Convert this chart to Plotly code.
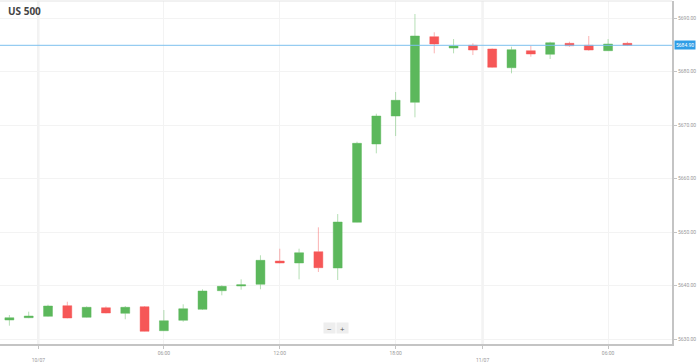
import plotly.graph_objects as go

# ---- data (hourly candles, 09/07 21:00 -> 11/07 07:00, 23:00 session break) ----
times = ["09/07 21:00", "09/07 22:00",
         "10/07 00:00", "10/07 01:00", "10/07 02:00", "10/07 03:00", "10/07 04:00", "10/07 05:00",
         "10/07 06:00", "10/07 07:00", "10/07 08:00", "10/07 09:00", "10/07 10:00", "10/07 11:00",
         "10/07 12:00", "10/07 13:00", "10/07 14:00", "10/07 15:00", "10/07 16:00", "10/07 17:00",
         "10/07 18:00", "10/07 19:00", "10/07 20:00", "10/07 21:00", "10/07 22:00",
         "11/07 00:00", "11/07 01:00", "11/07 02:00", "11/07 03:00", "11/07 04:00", "11/07 05:00",
         "11/07 06:00", "11/07 07:00"]
opens = [5633.55, 5633.98, 5634.24, 5636.23, 5634.06, 5635.85, 5634.80, 5636.04,
         5631.55, 5633.50, 5635.55, 5639.03, 5639.91, 5640.23,
         5644.58, 5644.21, 5646.32, 5643.27, 5651.82, 5666.45,
         5671.68, 5674.24, 5686.51, 5684.39, 5684.90,
         5684.21, 5680.71, 5683.89, 5683.22, 5685.27, 5684.90,
         5683.89, 5685.27]
highs = [5634.49, 5635.11, 5636.41, 5636.97, 5636.10, 5636.10, 5636.17, 5636.17,
         5635.42, 5636.49, 5639.29, 5640.04, 5641.16, 5645.65,
         5646.88, 5646.88, 5650.88, 5653.36, 5666.88, 5672.11,
         5676.17, 5690.75, 5687.33, 5686.07, 5685.27,
         5684.30, 5684.64, 5684.82, 5685.57, 5685.57, 5686.64,
         5686.07, 5685.57]
lows = [5632.49, 5633.90, 5634.17, 5633.87, 5634.00, 5634.80, 5633.69, 5631.40,
        5631.50, 5633.23, 5635.42, 5638.17, 5639.22, 5639.30,
        5644.15, 5641.16, 5642.53, 5641.03, 5651.80, 5664.71,
        5667.94, 5671.44, 5683.40, 5683.40, 5683.08,
        5680.70, 5679.66, 5682.77, 5682.34, 5684.64, 5683.90,
        5683.85, 5684.75]
closes = [5633.98, 5634.30, 5636.17, 5633.93, 5635.93, 5634.86, 5635.93, 5631.44,
          5633.42, 5635.66, 5638.97, 5639.85, 5640.15, 5644.71,
          5644.21, 5646.13, 5643.33, 5651.87, 5666.58, 5671.68,
          5674.62, 5686.64, 5685.14, 5684.77, 5684.02,
          5680.79, 5684.08, 5683.27, 5685.38, 5684.82, 5684.02,
          5685.14, 5684.90]

y_ticks = [5630, 5640, 5650, 5660, 5670, 5680, 5690]
time_tick_labels = ["10/07 06:00", "10/07 12:00", "10/07 18:00", "11/07 06:00"]
date_boundaries = [("09/07 22:00", "10/07 00:00", "10/07"), ("10/07 22:00", "11/07 00:00", "11/07")]

idx = list(range(len(times)))
pos = {t: i for i, t in enumerate(times)}

tickvals = [pos[t] for t in time_tick_labels]
ticktext = [t.split(" ")[1] for t in time_tick_labels]
date_vals = [(pos[a] + pos[b]) / 2 for a, b, _ in date_boundaries]
date_text = ["<br>" + lab for _, _, lab in date_boundaries]

all_vals = tickvals + date_vals
all_text = ticktext + date_text

GREEN = "#5cb85c"
RED = "#f65757"

fig = go.Figure()
fig.add_trace(go.Candlestick(
    x=idx, open=opens, high=highs, low=lows, close=closes,
    increasing=dict(fillcolor=GREEN, line=dict(color="rgba(92,184,92,0.45)", width=1)),
    decreasing=dict(fillcolor=RED, line=dict(color="rgba(246,87,87,0.45)", width=1)),
    whiskerwidth=0, hoverinfo="skip", showlegend=False,
))

last = closes[-1]

shapes = []
for v in date_vals:
    shapes.append(dict(type="line", xref="x", yref="paper", x0=v, x1=v, y0=0, y1=1,
                       line=dict(color="#ebebeb", width=2), layer="below"))
shapes.append(dict(type="line", xref="paper", yref="y", x0=0, x1=1, y0=last, y1=last,
                   line=dict(color="#7cc0ee", width=1), layer="above"))
shapes.append(dict(type="line", xref="paper", yref="paper", x0=0, x1=1, y0=1, y1=1,
                   line=dict(color="#e4e4e4", width=1)))

annotations = [
    dict(xref="paper", yref="y", x=1, y=last, xanchor="left", yanchor="middle",
         xshift=2, text=f"{last:.2f}", showarrow=False,
         font=dict(size=5, color="white", family="Roboto"),
         bgcolor="#2e9de6", borderpad=1),
    dict(xref="paper", yref="paper", x=0.491, y=0.029, text="−", showarrow=False,
         font=dict(size=8, color="#555"), bgcolor="#eeeeee", width=9, height=8),
    dict(xref="paper", yref="paper", x=0.509, y=0.029, text="+", showarrow=False,
         font=dict(size=8, color="#555"), bgcolor="#eeeeee", width=9, height=8),
]

fig.update_layout(
    width=697, height=362,
    margin=dict(l=0, r=25, t=1, b=18),
    paper_bgcolor="white", plot_bgcolor="white",
    title=dict(text="<b>US 500</b>", x=8 / 697, xref="container", xanchor="left",
               y=1 - 11 / 362, yref="container", yanchor="middle",
               font=dict(size=10, color="#444", family="Open Sans")),
    shapes=shapes, annotations=annotations,
    boxgap=0.34,
    xaxis=dict(range=[-0.486, 34.31], tickvals=all_vals, ticktext=all_text,
               automargin=False,
               showgrid=True, gridcolor="#f3f3f3", gridwidth=1, zeroline=False,
               showline=True, linecolor="#c4c4c4", linewidth=2, mirror=False,
               ticks="outside", ticklen=3, tickcolor="#c4c4c4",
               tickfont=dict(size=5, color="#999", family="Roboto"),
               rangeslider=dict(visible=False), fixedrange=True),
    yaxis=dict(range=[5629.07, 5693.18], side="right", tickvals=y_ticks,
               automargin=False,
               tickformat=".2f", showgrid=True, gridcolor="#f3f3f3", zeroline=False,
               showline=True, linecolor="#c4c4c4", linewidth=2,
               ticks="outside", ticklen=3, tickcolor="#c4c4c4",
               tickfont=dict(size=5, color="#999", family="Roboto")),
)

fig.write_html("out.html", config={"displayModeBar": False},
               post_script="document.body.style.margin='0';document.body.style.overflow='hidden';")
